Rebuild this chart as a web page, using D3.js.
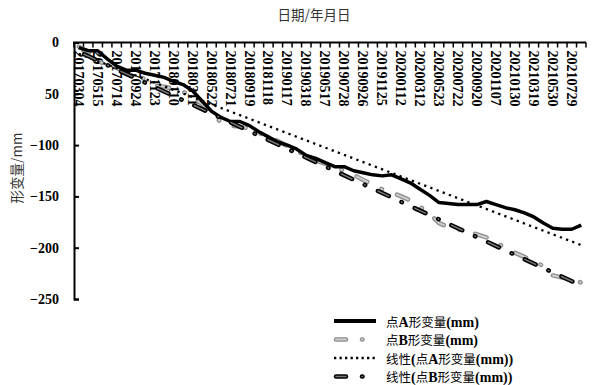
<!DOCTYPE html>
<html>
<head>
<meta charset="utf-8">
<script src="https://cdn.jsdelivr.net/npm/d3@7"></script>
<style>
  body { margin: 0; background: #fff; }
  svg { display: block; }
</style>
</head>
<body>
<div id="chart"></div>
<script>
/* deformation of point A and B, with linear trend lines */

// categories (survey dates), every other one is labelled on the axis
const dates = [
  "20170304","20170411","20170515","20170612","20170714","20170818","20170924","20171025",
  "20171123","20171220","20180110","20180208","20180311","20180418","20180522","20180620",
  "20180721","20180820","20180919","20181019","20181118","20181218","20190117","20190216",
  "20190318","20190417","20190517","20190616","20190728","20190827","20190926","20191026",
  "20191125","20191215","20200112","20200210","20200312","20200420","20200523","20200621",
  "20200722","20200820","20200920","20201015","20201107","20201210","20210130","20210225",
  "20210319","20210420","20210530","20210630","20210729","20210828"
];

// point A deformation (mm)
const pointA = [
  -5, -8, -8, -16, -23, -27, -27, -30, -32, -34, -38, -41, -47, -57, -67, -73,
  -77, -77, -81, -87, -92, -97, -100, -104, -110, -113, -117, -121, -121, -125,
  -127, -129, -130, -129, -133, -137, -143, -149, -156, -157, -158, -158, -158,
  -155, -158, -161, -163, -166, -170, -176, -181, -182, -182, -178
];

// point B deformation (mm)
const pointB = [
  -4, -9, -18, -22, -25, -28, -31, -36, -42, -43, -45, -48, -53, -60, -68, -78,
  -81, -82, -84, -88, -93, -96, -101, -106, -110, -115, -118, -122, -125, -129,
  -134, -138, -143, -146, -150, -154, -160, -167, -176, -180, -182, -184, -187,
  -190, -195, -200, -205, -209, -213, -218, -227, -229, -231, -234
];

// linear trend lines: value at first and last date
const trendA = [-11, -197.5];
const trendB = [-9, -237];

const yTicks = [0, -50, -100, -150, -200, -250];
const yTickLabels = ["0", "50", "\u2212100", "\u2212150", "\u2212200", "\u2212250"];

const legendLabels = [
  "点A形变量(mm)",
  "点B形变量(mm)",
  "线性(点A形变量(mm))",
  "线性(点B形变量(mm))"
];

const width = 594,
      height = 385,
      margin = ({ top: 42.5, right: 8, bottom: 86, left: 74 });

const serif = "'Liberation Serif', 'Times New Roman', serif";
const cjk = "'Noto Sans CJK SC', sans-serif";

let svg = d3.select("#chart")
    .append("svg")
    .attr("width", width)
    .attr("height", height)
    .attr("viewBox", [0, 0, width, height]);

let x = d3.scaleBand()
    .domain(dates)
    .range([margin.left, width - margin.right]);

let y = d3.scaleLinear()
    .domain([0, -250])
    .range([margin.top, height - margin.bottom]);

const cx = i => x(dates[i]) + x.bandwidth() / 2;

// mixed text: latin runs bold serif, chinese runs plain and a bit smaller
function mixedText(sel, str) {
    const runs = str.match(/[\x00-\x7F]+|[^\x00-\x7F]+/g);
    for (const r of runs) {
        const ascii = /^[\x00-\x7F]+$/.test(r);
        sel.append("tspan")
            .attr("font-family", ascii ? serif : cjk)
            .attr("font-weight", ascii ? "bold" : "normal")
            .attr("font-size", ascii ? 14 : 12.5)
            .text(r);
    }
}

/* TITLES */
svg.append("text")
    .attr("x", 314)
    .attr("y", 20)
    .attr("text-anchor", "middle")
    .attr("font-family", cjk)
    .attr("font-size", 13.5)
    .attr("fill", "#333")
    .text("日期/年月日");

svg.append("text")
    .attr("transform", "translate(22,168) rotate(-90)")
    .attr("text-anchor", "middle")
    .attr("font-family", cjk)
    .attr("font-size", 13.5)
    .attr("fill", "#333")
    .text("形变量/mm");

/* Y AXIS */
const yAxis = g => g
    .attr("transform", `translate(${margin.left},0)`)
    .call(d3.axisRight(y).tickValues(yTicks).tickSize(5).tickFormat(""))
    .call(g => g.selectAll("line, path").attr("stroke", "#000").attr("stroke-width", 2));

svg.append("g").call(yAxis);

svg.append("g")
    .selectAll("text")
    .data(yTicks)
    .join("text")
    .attr("x", margin.left - 15)
    .attr("y", d => y(d))
    .attr("dy", "0.35em")
    .attr("text-anchor", "end")
    .attr("font-family", serif)
    .attr("font-weight", "bold")
    .attr("font-size", 14)
    .text((d, i) => yTickLabels[i]);

/* X AXIS (top, at 0) */
const [x0, x1] = x.range();
let xg = svg.append("g");

xg.append("line")
    .attr("x1", x0 - 1).attr("x2", x1)
    .attr("y1", y(0)).attr("y2", y(0))
    .attr("stroke", "#000").attr("stroke-width", 2);

xg.selectAll(".tick")
    .data(dates.map(d => x(d)).concat([x1]))
    .join("line")
    .attr("class", "tick")
    .attr("x1", d => d).attr("x2", d => d)
    .attr("y1", y(0)).attr("y2", y(0) + 5)
    .attr("stroke", "#000").attr("stroke-width", 1.5);

xg.selectAll(".xlabel")
    .data(dates.filter((d, i) => i % 2 === 0))
    .join("text")
    .attr("class", "xlabel")
    .attr("transform", d => `translate(${x(d) + x.bandwidth() / 2},${y(0) + 8}) rotate(90)`)
    .attr("dy", "0.35em")
    .attr("font-family", serif)
    .attr("font-weight", "bold")
    .attr("font-size", 14)
    .text(d => d);

/* LINES */
const line = d3.line()
    .x((d, i) => cx(i))
    .y(d => y(d));

const trendLine = d3.line()
    .x(d => cx(d[0]))
    .y(d => y(d[1]));

const last = dates.length - 1;
const dashB = "12,16,0.5,16";

// point B: light gray dash-dot with darker rim
svg.append("path")
    .datum(pointB)
    .attr("d", line)
    .attr("fill", "none")
    .attr("stroke", "#8c8c8c")
    .attr("stroke-width", 4.5)
    .attr("stroke-linecap", "round")
    .attr("stroke-linejoin", "round")
    .attr("stroke-dasharray", dashB);

svg.append("path")
    .datum(pointB)
    .attr("d", line)
    .attr("fill", "none")
    .attr("stroke", "#cfcfcf")
    .attr("stroke-width", 2)
    .attr("stroke-linecap", "round")
    .attr("stroke-linejoin", "round")
    .attr("stroke-dasharray", dashB);

// point A: thick black
svg.append("path")
    .datum(pointA)
    .attr("d", line)
    .attr("fill", "none")
    .attr("stroke", "#000")
    .attr("stroke-width", 3.5)
    .attr("stroke-linejoin", "round");

// trend A: dotted
svg.append("path")
    .datum([[0, trendA[0]], [last, trendA[1]]])
    .attr("d", trendLine)
    .attr("fill", "none")
    .attr("stroke", "#000")
    .attr("stroke-width", 2.3)
    .attr("stroke-dasharray", "2.3,4.3");

// trend B: black dash-dot with gray core
const tb = [[0, trendB[0]], [last, trendB[1]]];
svg.append("path")
    .datum(tb)
    .attr("d", trendLine)
    .attr("fill", "none")
    .attr("stroke", "#000")
    .attr("stroke-width", 4.5)
    .attr("stroke-linecap", "round")
    .attr("stroke-dasharray", "12,14,0.5,14")
    .attr("stroke-dashoffset", -6);

svg.append("path")
    .datum(tb)
    .attr("d", trendLine)
    .attr("fill", "none")
    .attr("stroke", "#777")
    .attr("stroke-width", 1.5)
    .attr("stroke-linecap", "round")
    .attr("stroke-dasharray", "12,14,0.5,14")
    .attr("stroke-dashoffset", -6);

/* LEGEND */
const legendY = [321, 339.5, 358, 376.5];
let legend = svg.append("g");

legend.append("line")
    .attr("x1", 334).attr("x2", 376)
    .attr("y1", legendY[0]).attr("y2", legendY[0])
    .attr("stroke", "#000").attr("stroke-width", 4);

for (const [w, c] of [[4.5, "#8c8c8c"], [2, "#cfcfcf"]]) {
    legend.append("line")
        .attr("x1", 336).attr("x2", 346)
        .attr("y1", legendY[1]).attr("y2", legendY[1])
        .attr("stroke", c).attr("stroke-width", w).attr("stroke-linecap", "round");
    legend.append("line")
        .attr("x1", 362).attr("x2", 362.5)
        .attr("y1", legendY[1]).attr("y2", legendY[1])
        .attr("stroke", c).attr("stroke-width", w).attr("stroke-linecap", "round");
}

legend.append("line")
    .attr("x1", 334).attr("x2", 376)
    .attr("y1", legendY[2]).attr("y2", legendY[2])
    .attr("stroke", "#000").attr("stroke-width", 2.3)
    .attr("stroke-dasharray", "2.3,3.2");

for (const [w, c] of [[4.5, "#000"], [1.5, "#777"]]) {
    legend.append("line")
        .attr("x1", 336).attr("x2", 346)
        .attr("y1", legendY[3]).attr("y2", legendY[3])
        .attr("stroke", c).attr("stroke-width", w).attr("stroke-linecap", "round");
    legend.append("line")
        .attr("x1", 362).attr("x2", 362.5)
        .attr("y1", legendY[3]).attr("y2", legendY[3])
        .attr("stroke", c).attr("stroke-width", w).attr("stroke-linecap", "round");
}

legend.selectAll("text")
    .data(legendLabels)
    .join("text")
    .attr("x", 386)
    .attr("y", (d, i) => legendY[i])
    .attr("dy", "0.35em")
    .each(function (d) { mixedText(d3.select(this), d); });
</script>
</body>
</html>
